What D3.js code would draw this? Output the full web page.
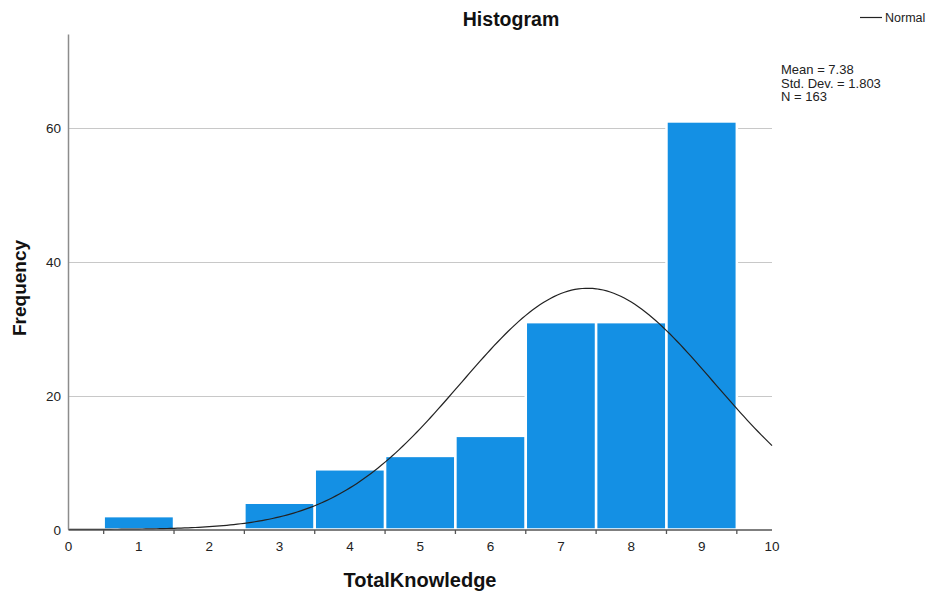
<!DOCTYPE html>
<html><head><meta charset="utf-8">
<script src="https://cdn.jsdelivr.net/npm/d3@7"></script>
<style>body{margin:0;background:#fff}svg{display:block;font-family:"Liberation Sans",Arial,sans-serif}</style>
</head><body>
<svg id="c" width="928" height="593"></svg>
<script>
const binCenters = [1, 2, 3, 4, 5, 6, 7, 8, 9];
const frequencies = [2, 0, 4, 9, 11, 14, 31, 31, 61];
const yTicks = [0, 20, 40, 60];
const xTickLabels = [0, 1, 2, 3, 4, 5, 6, 7, 8, 9, 10];
const binEdges = [0.5, 1.5, 2.5, 3.5, 4.5, 5.5, 6.5, 7.5, 8.5, 9.5];
const mean = 7.38, sd = 1.803, N = 163;
const statsLines = ["Mean = 7.38", "Std. Dev. = 1.803", "N = 163"];

const svg = d3.select("#c");
const x = d3.scaleLinear().domain([0, 10]).range([68.5, 772]);
const y = d3.scaleLinear().domain([0, 74]).range([529.5, 34.5]);

// gridlines
svg.append("g").selectAll("line").data(yTicks.filter(d => d > 0)).join("line")
  .attr("x1", x(0)).attr("x2", x(10)).attr("y1", d => Math.round(y(d)) + 0.5).attr("y2", d => Math.round(y(d)) + 0.5)
  .attr("stroke", "#c8c8c8").attr("stroke-width", 1.2);

// bars
svg.append("g").selectAll("rect").data(binCenters.map((c, i) => ({c, v: frequencies[i]})).filter(d => d.v > 0)).join("rect")
  .attr("x", d => x(d.c - 0.5)).attr("width", d => x(d.c + 0.5) - x(d.c - 0.5))
  .attr("y", d => y(d.v)).attr("height", d => y(0) - y(d.v))
  .attr("fill", "#1490e4").attr("stroke", "#fff").attr("stroke-width", 2.5);

// normal curve
const pts = d3.range(0, 10.001, 0.05).map(v => [v, N * (1 / (sd * Math.sqrt(2 * Math.PI))) * Math.exp(-0.5 * ((v - mean) / sd) ** 2)]);
svg.append("path").datum(pts).attr("fill", "none").attr("stroke", "#222").attr("stroke-width", 1.2)
  .attr("d", d3.line().x(d => x(d[0])).y(d => y(d[1])));

// y axis
svg.append("line").attr("x1", 68.5).attr("x2", 68.5).attr("y1", y(74)).attr("y2", y(0))
  .attr("stroke", "#8c8c8c").attr("stroke-width", 1.5);
svg.append("g").selectAll("text").data(yTicks).join("text")
  .attr("x", 61).attr("y", d => y(d) + 5).attr("text-anchor", "end")
  .attr("font-size", 13.5).attr("fill", "#222").text(d => d);

// x axis
svg.append("line").attr("x1", x(0)).attr("x2", x(10)).attr("y1", 530).attr("y2", 530)
  .attr("stroke", "#555").attr("stroke-width", 1.3);
svg.append("g").selectAll("line").data(binEdges).join("line")
  .attr("x1", d => x(d)).attr("x2", d => x(d)).attr("y1", 530).attr("y2", 534)
  .attr("stroke", "#555").attr("stroke-width", 1.3);
svg.append("g").selectAll("text").data(xTickLabels).join("text")
  .attr("x", d => x(d)).attr("y", 551).attr("text-anchor", "middle")
  .attr("font-size", 13.5).attr("fill", "#222").text(d => d);

// titles
svg.append("text").attr("x", 511).attr("y", 26).attr("text-anchor", "middle")
  .attr("font-size", 19.5).attr("font-weight", "bold").attr("fill", "#111").text("Histogram");
svg.append("text").attr("x", 420).attr("y", 587).attr("text-anchor", "middle")
  .attr("font-size", 20).attr("font-weight", "bold").attr("fill", "#111").text("TotalKnowledge");
svg.append("text").attr("transform", "translate(26,288) rotate(-90)").attr("text-anchor", "middle")
  .attr("font-size", 19).attr("font-weight", "bold").attr("fill", "#111").text("Frequency");

// legend
svg.append("line").attr("x1", 860).attr("x2", 882).attr("y1", 17.5).attr("y2", 17.5).attr("stroke", "#222").attr("stroke-width", 1.2);
svg.append("text").attr("x", 885).attr("y", 22).attr("font-size", 12.5).attr("fill", "#222").text("Normal");

svg.append("g").selectAll("text").data(statsLines).join("text")
  .attr("x", 781).attr("y", (d, i) => 74 + i * 13.5).attr("font-size", 13).attr("fill", "#222").text(d => d);
</script>
</body></html>
